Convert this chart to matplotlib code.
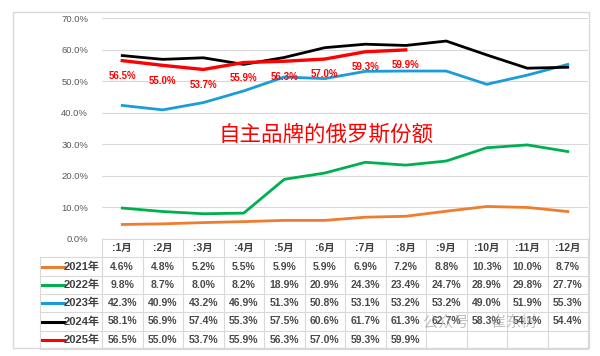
import matplotlib
matplotlib.use("Agg")
import matplotlib.pyplot as plt
from matplotlib.patches import Rectangle

plt.rcParams['font.family'] = ['Liberation Sans', 'Noto Sans CJK SC', 'DejaVu Sans']

months = [':1月', ':2月', ':3月', ':4月', ':5月', ':6月', ':7月', ':8月', ':9月', ':10月', ':11月', ':12月']
years = ['2021年', '2022年', '2023年', '2024年', '2025年']
share_2021 = [4.6, 4.8, 5.2, 5.5, 5.9, 5.9, 6.9, 7.2, 8.8, 10.3, 10.0, 8.7]
share_2022 = [9.8, 8.7, 8.0, 8.2, 18.9, 20.9, 24.3, 23.4, 24.7, 28.9, 29.8, 27.7]
share_2023 = [42.3, 40.9, 43.2, 46.9, 51.3, 50.8, 53.1, 53.2, 53.2, 49.0, 51.9, 55.3]
share_2024 = [58.1, 56.9, 57.4, 55.3, 57.5, 60.6, 61.7, 61.3, 62.7, 58.3, 54.1, 54.4]
share_2025 = [56.5, 55.0, 53.7, 55.9, 56.3, 57.0, 59.3, 59.9]
series = [share_2021, share_2022, share_2023, share_2024, share_2025]
colors = ['#ED7D31', '#00B050', '#1B9BD8', '#000000', '#FF0000']
widths = [2.0, 2.0, 2.0, 2.0, 2.4]

W, H = 600, 356
fig = plt.figure(figsize=(W / 100, H / 100), dpi=100)

# outer chart border
fig.patches.append(Rectangle((13 / W, 1 - 348 / H), 576 / W, 336 / H, transform=fig.transFigure,
                             fill=False, edgecolor='#d9d9d9', linewidth=1))

# line plot
ax = fig.add_axes([102 / W, 1 - 239 / H, 486 / W, 221 / H])
x = list(range(12))
for s, c, lw in zip(series, colors, widths):
    ax.plot(x[:len(s)], s, color=c, linewidth=lw, solid_joinstyle='miter')
for xi, v in zip(x, share_2025):
    ax.annotate(f'{v:.1f}%', (xi, v), xytext=(0, -11), textcoords='offset points',
                ha='center', va='center', color='#FF0000', fontsize=7, fontweight='bold')
ax.set_xlim(-0.5, 11.5)
ax.set_ylim(0, 70)
ax.set_yticks(range(0, 80, 10))
ax.set_yticklabels([f'{t:.1f}%' for t in range(0, 80, 10)])
ax.tick_params(axis='y', length=0, pad=10, labelsize=6.8, labelcolor='#595959')
ax.set_xticks([])
ax.grid(axis='y', color='#d9d9d9', linewidth=0.8)
ax.set_axisbelow(True)
for sp in ax.spines.values():
    sp.set_visible(False)
ax.text(0.46, 0.47, '自主品牌的俄罗斯份额', transform=ax.transAxes, ha='center', va='center',
        color='#FF0000', fontsize=15.5, family=['Noto Sans CJK SC'])

# data table under the plot
tx = fig.add_axes([40 / W, 1 - 349 / H, 548 / W, 110 / H])
left = -0.5 - 62 / 40.5
tx.set_xlim(left, 11.5)
tx.set_ylim(6, 0)
tx.axis('off')
grid = '#d9d9d9'
for r in range(7):
    x0 = -0.5 if r == 0 else left
    tx.plot([x0, 11.5], [r, r], color=grid, linewidth=0.8, clip_on=False)
for ci in range(13):
    tx.plot([ci - 0.5, ci - 0.5], [0, 6], color=grid, linewidth=0.8, clip_on=False)
tx.plot([left, left], [1, 6], color=grid, linewidth=0.8, clip_on=False)
for ci, m in enumerate(months):
    tx.text(ci, 0.5, m, ha='center', va='center', fontsize=7.5, color='#404040', fontweight='bold')
for r, (yr, s, c) in enumerate(zip(years, series, colors), start=1):
    tx.plot([left + 0.05, left + 0.6], [r + 0.5, r + 0.5], color=c, linewidth=2.2)
    tx.text(-0.55, r + 0.5, yr, ha='right', va='center', fontsize=8, color='#404040', fontweight='bold')
    for ci, v in enumerate(s):
        tx.text(ci, r + 0.5, f'{v:.1f}%', ha='center', va='center', fontsize=7.5,
                color='#4a4a4a', fontweight='bold')

# watermark
fig.text(0.80, 1 - 322 / H, '公众号 · 崔东树', ha='center', va='center', fontsize=11,
         color='#999999', alpha=0.6, family=['Noto Sans CJK SC'])

fig.savefig('out.png', dpi=100, facecolor='white')
